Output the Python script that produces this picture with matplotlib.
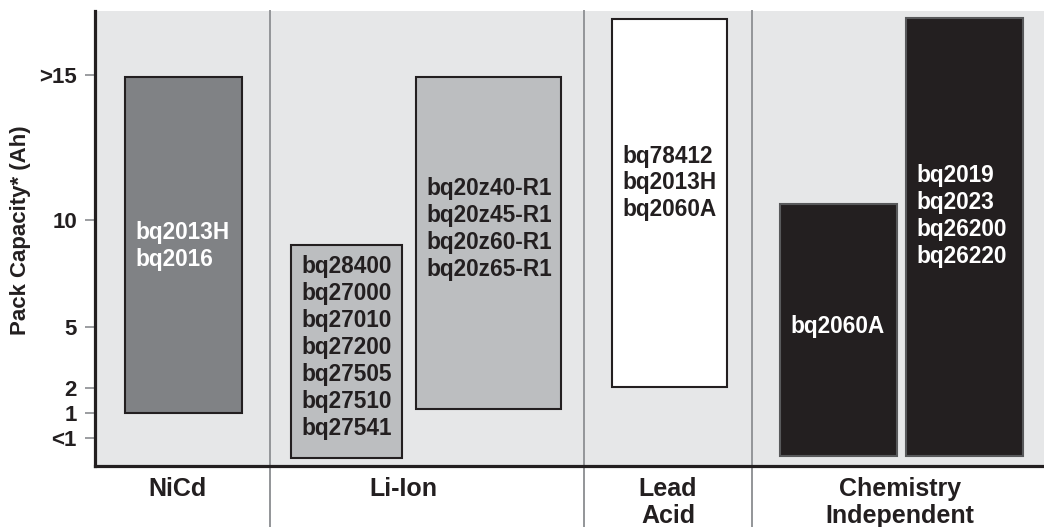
import matplotlib
matplotlib.use("Agg")
import matplotlib.pyplot as plt
from matplotlib.transforms import blended_transform_factory

plt.rcParams['font.family'] = ['Liberation Sans', 'DejaVu Sans']
plt.rcParams['font.weight'] = 'bold'

# ---- data ----
categories = ["NiCd", "Li-Ion", "Lead\nAcid", "Chemistry\nIndependent"]
tick_labels = ["<1", "1", "2", "5", "10", ">15"]
tick_values = [-0.17, 1, 2.17, 5, 10, 16.76]

bar_groups = ["NiCd", "Li-Ion", "Li-Ion", "Lead\nAcid", "Chemistry\nIndependent", "Chemistry\nIndependent"]
bar_low = [1.0, -1.08, 1.19, 2.21, -0.99, -0.99]
bar_high = [16.68, 8.84, 16.68, 19.38, 10.75, 19.42]
bar_text = [
    ["bq2013H", "bq2016"],
    ["bq28400", "bq27000", "bq27010", "bq27200", "bq27505", "bq27510", "bq27541"],
    ["bq20z40-R1", "bq20z45-R1", "bq20z60-R1", "bq20z65-R1"],
    ["bq78412", "bq2013H", "bq2060A"],
    ["bq2060A"],
    ["bq2019", "bq2023", "bq26200", "bq26220"],
]
text_center = [8.81, 4.05, 9.58, 11.73, 5.02, 10.17]

# ---- layout / style ----
bar_left = [2.95, 19.57, 32.1, 51.67, 68.5, 81.1]
bar_width = [11.7, 11.1, 14.5, 11.5, 11.7, 11.7]
bar_face = ["#808285", "#bcbec0", "#bcbec0", "#ffffff", "#231f20", "#231f20"]
bar_edge = ["#231f20", "#231f20", "#231f20", "#231f20", "#58595b", "#58595b"]
text_color = ["white", "#231f20", "#231f20", "#231f20", "white", "white"]
separators = [17.5, 48.9, 65.7]
cat_x = [8.3, 30.8, 57.3, 80.5]

fig = plt.figure(figsize=(10.44, 5.27), dpi=100)
ax = fig.add_axes([95/1044, 1 - 466/527, 1 - 95/1044, 455/527])
ax.set_facecolor("#e6e7e8")
ax.set_xlim(0, 94.9)
ax.set_ylim(-1.47, 19.75)

for i in range(len(bar_low)):
    ax.bar(bar_left[i], bar_high[i] - bar_low[i], bottom=bar_low[i],
           width=bar_width[i], align='edge', color=bar_face[i],
           edgecolor=bar_edge[i], linewidth=1.5, zorder=3)
    ax.text(bar_left[i] + 1.05, text_center[i], "\n".join(bar_text[i]),
            ha='left', va='center', fontsize=16.3, fontweight='bold',
            color=text_color[i], linespacing=1.22, zorder=4)

for s in separators:
    ax.axvline(s, ymin=-0.14, ymax=1, color="#939598", linewidth=1.4,
               clip_on=False, zorder=2)

trans = blended_transform_factory(ax.transData, ax.transAxes)
for c, x in zip(categories, cat_x):
    ax.text(x, -0.025, c, transform=trans, ha='center', va='top',
            fontsize=18, fontweight='bold', color="#231f20", linespacing=1.15)

ax.set_yticks(tick_values)
ax.set_yticklabels(tick_labels, fontsize=16, fontweight='bold', color="#231f20")
ax.tick_params(axis='y', length=7, width=1.3, color="#939598", pad=6)
ax.set_xticks([])
ax.set_ylabel("Pack Capacity* (Ah)", fontsize=16, fontweight='bold',
              color="#231f20", va='center', ha='center')
ax.yaxis.set_label_coords(-0.079, 0.519)

for side in ['top', 'right']:
    ax.spines[side].set_visible(False)
for side in ['left', 'bottom']:
    ax.spines[side].set_linewidth(2.3)
    ax.spines[side].set_color("#231f20")
    ax.spines[side].set_zorder(5)

fig.savefig("out.png", dpi=100, facecolor="white")
